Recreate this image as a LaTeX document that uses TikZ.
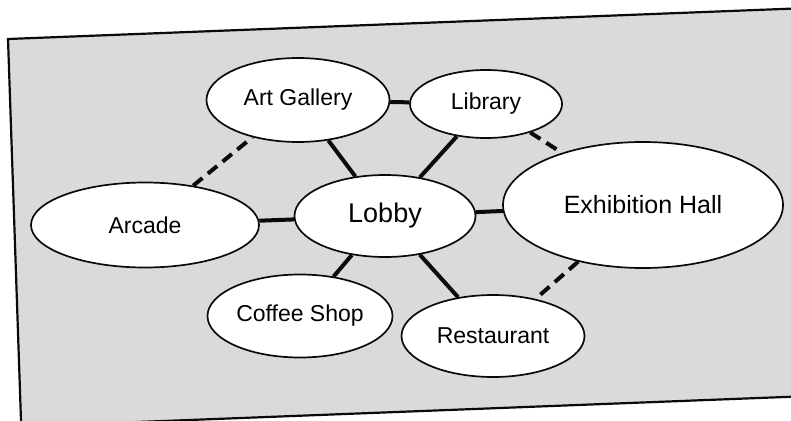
\documentclass[tikz,border=0pt]{standalone}
\usepackage{fontspec}
\setmainfont{Liberation Sans}
\usepackage{tikz}
\usetikzlibrary{shapes.geometric}
\definecolor{dStip}{RGB}{218,218,218}
\definecolor{dLine}{RGB}{10,10,10}
\tikzset{
  room/.style={ellipse, draw=dLine, fill=white, line width=1.7pt,
               inner sep=0pt, align=center, font=\fontsize{23}{26}\selectfont},
  hub/.style={room, font=\fontsize{27}{30}\selectfont},
  hall/.style={room, font=\fontsize{25}{28}\selectfont},
  link/.style={draw=dLine, line width=4pt},
  linkd/.style={link, dash pattern=on 12pt off 7pt},
  frame/.style={draw=dLine, line width=2.2pt, fill=dStip},
}

\begin{document}
\begin{tikzpicture}[x=1pt, y=-1pt]
  \clip (0,0) rectangle (791,420);
  % tilted sheet
  \draw[frame] (8,39) -- (800,8.3) -- (800,396.4) -- (21.2,426.5) -- cycle;
  % rooms
  \node[room, minimum width=183pt, minimum height=84pt] (gal) at (298,100) {Art Gallery};
  \node[room, minimum width=152pt, minimum height=68pt] (lib) at (486,104) {Library};
  \node[hub,  minimum width=181pt, minimum height=82pt] (lob) at (385,216) {Lobby};
  \node[room, minimum width=228pt, minimum height=85pt] (arc) at (145,225) {Arcade};
  \node[hall, minimum width=280pt, minimum height=126pt] (exh) at (643,205) {Exhibition Hall};
  \node[room, minimum width=185pt, minimum height=83pt] (caf) at (300,316) {Coffee Shop};
  \node[room, minimum width=183pt, minimum height=82pt] (res) at (493,336) {Restaurant};
  % direct links
  \draw[link] (gal) -- (lib);
  \draw[link] (lob) -- (gal);
  \draw[link] (lob) -- (lib);
  \draw[link] (lob) -- (arc);
  \draw[link] (lob) -- (exh);
  \draw[link] (lob) -- (caf);
  \draw[link] (lob) -- (res);
  % optional links
  \draw[linkd] (arc) -- (gal);
  \draw[linkd] (lib) -- (exh);
  \draw[linkd] (exh) -- (res);
\end{tikzpicture}
\end{document}
